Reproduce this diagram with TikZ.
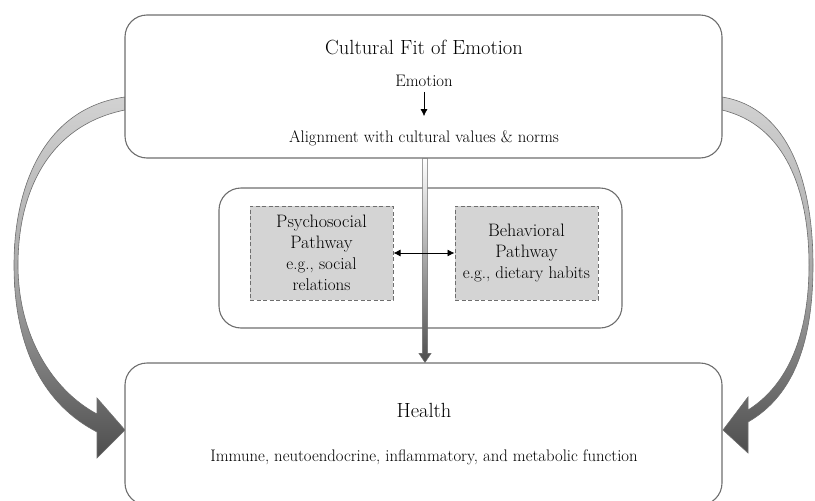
\documentclass[tikz,border=0pt]{standalone}
\usetikzlibrary{calc,arrows.meta}
\definecolor{edgec}{HTML}{6E6E6E}
\definecolor{pathfill}{HTML}{D4D4D4}
\definecolor{arrlight}{HTML}{D2D2D2}
\definecolor{arrmid}{HTML}{A8A8A8}
\definecolor{arrdark}{HTML}{4E4E4E}
\newcommand{\pathhead}{\fontsize{18}{21}\selectfont}
\newcommand{\pathsub}{\fontsize{17}{21}\selectfont}
\begin{document}
\begin{tikzpicture}[x=1pt,y=-1pt,
  bigbox/.style={draw=edgec, line width=1.1pt, rounded corners=22pt, fill=white},
  pathbox/.style={draw=edgec, line width=1pt, dash pattern=on 4pt off 2.5pt, fill=pathfill,
    minimum width=143pt, minimum height=94pt, align=center, inner sep=2pt, font=\fontsize{18}{21}\selectfont},
  txt/.style={inner sep=0pt, align=center},
  titlefont/.style={font=\fontsize{20.5}{24}\selectfont},
  bodyfont/.style={font=\fontsize{16.7}{20}\selectfont},
  curvearrow/.style={draw=edgec, line width=0.6pt, top color=arrlight, bottom color=arrdark, middle color=arrmid, shading angle=0},
  thinarrow/.style={-{Latex[length=7pt,width=7pt]}, line width=0.8pt, black},
  dblarrow/.style={{Latex[length=7pt,width=7pt]}-{Latex[length=7pt,width=7pt]}, line width=0.8pt, black}
]
\useasboundingbox (0,0) rectangle (815,501);

% curved side arrows
\path[curvearrow] (125,97) .. controls (45,108) and (14,185) .. (14,265)
   .. controls (14,350) and (45,405) .. (97,432) -- (97,458) -- (125,430) -- (97,398) -- (97,414)
   .. controls (52,390) and (18,335) .. (18,265)
   .. controls (18,190) and (50,125) .. (125,110) -- cycle;
\path[curvearrow] (722,97) .. controls (790,108) and (813,185) .. (813,265)
   .. controls (813,340) and (795,395) .. (748,422) -- (748,453) -- (723,430) -- (748,397) -- (748,410)
   .. controls (788,385) and (809,335) .. (809,265)
   .. controls (809,190) and (785,125) .. (722,110) -- cycle;

% boxes
\node[bigbox, minimum width=597pt, minimum height=143pt] (top) at (423.5,86.5) {};
\node[bigbox, minimum width=403pt, minimum height=140pt] (mid) at (420.5,258) {};
\node[bigbox, minimum width=597pt, minimum height=142pt] (health) at (423.5,434) {};

% top box texts
\node[txt, titlefont] (title) at (424,47) {Cultural Fit of Emotion};
\node[txt, bodyfont] (emo) at (424,81) {Emotion};
\node[txt, bodyfont] (align) at (424,138) {Alignment with cultural values \& norms};
\draw[thinarrow] ($(emo.south)+(0,5)$) -- ($(align.north)+(0,-14)$);

% pathway boxes
\node[pathbox] (psy) at (321.5,253) {\pathhead Psychosocial\\\pathhead Pathway\\\pathsub e.g., social\\\pathsub relations};
\node[pathbox] (beh) at (526.5,253) {\pathhead Behavioral\\\pathhead Pathway\\\pathsub e.g., dietary habits};

% health texts
\node[txt, titlefont] (htitle) at (424,410) {Health};
\node[txt, bodyfont] (hsub) at (424,457) {Immune, neutoendocrine, inflammatory, and metabolic function};

% central arrow
\coordinate (cs) at ($(top.south)+(1.5,0)$);
\coordinate (ce) at ($(health.north)+(1.5,0)$);
\path[draw=edgec, line width=0.6pt, top color=white, bottom color=arrdark, shading angle=0]
  ($(cs)+(-2.6,0)$) -- ($(ce)+(-2.6,-9)$) -- ($(ce)+(-6,-9)$) -- (ce) -- ($(ce)+(6,-9)$) -- ($(ce)+(2.6,-9)$) -- ($(cs)+(2.6,0)$) -- cycle;

% double arrow
\draw[dblarrow] (psy.east) -- (beh.west);
\end{tikzpicture}
\end{document}
